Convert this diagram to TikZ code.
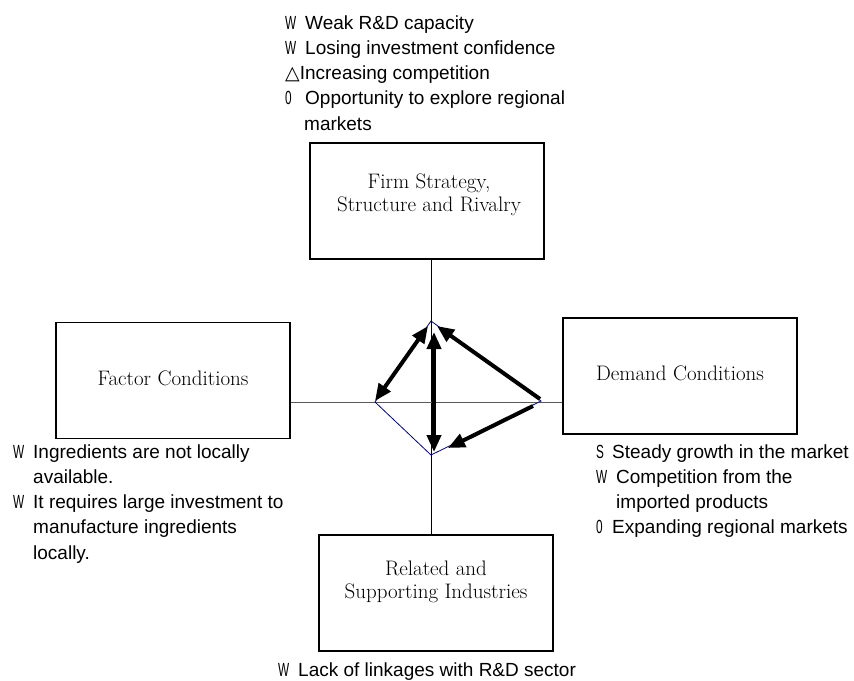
\documentclass[tikz,border=0pt]{standalone}
\usepackage{graphicx}
\usepackage{fontspec}
\newfontfamily\arialfont{Liberation Sans}
\newfontfamily\symfont{DejaVu Sans}
\usetikzlibrary{arrows.meta}
% bullet letters (W, S, 0) in a narrow, condensed face, followed by a fixed gap
\newcommand{\narrow}[1]{\scalebox{0.62}[1]{\arialfont #1}}
\newcommand{\mkw}[1]{\makebox[20pt][l]{\narrow{#1}}}
\newcommand{\mks}[1]{\makebox[16pt][l]{\narrow{#1}}}
\newcommand{\indentline}{\hspace*{20pt}}

\begin{document}
\begin{tikzpicture}[x=1pt,y=-1pt,
  force/.style={draw=black, line width=1.2pt, minimum width=234pt, minimum height=116pt, inner sep=0pt},
  forcelabel/.style={align=center, font=\fontsize{21}{23}\selectfont, inner sep=0pt},
  % multi-line notes: the base anchor sits on the last line
  notes/.style={align=left, anchor=base west, inner sep=0pt, font=\arialfont\fontsize{19}{25.3}\selectfont},
  axis/.style={line width=1pt},
  rim/.style={draw={rgb,255:red,0;green,0;blue,128}, line width=0.8pt},
  link/.style={line width=4pt, -{Triangle[length=17pt,width=14pt]}},
  duallink/.style={line width=4pt, {Triangle[length=17pt,width=14pt]}-{Triangle[length=17pt,width=14pt]}},
]
\useasboundingbox (0,0) rectangle (854,680);
\fill[white] (0,0) rectangle (854,680);

% the four determinants
\node[force] (firm)    at (427,201)   {};
\node[force] (factor)  at (173,380.5) {};
\node[force] (demand)  at (680,376)   {};
\node[force] (related) at (436,593)   {};

\node[forcelabel] (firmtext)    at (429,194.5) {Firm Strategy,\\Structure and Rivalry};
\node[forcelabel] (factortext)  at (173,378)   {Factor Conditions};
\node[forcelabel] (demandtext)  at (680,373)   {Demand Conditions};
\node[forcelabel] (relatedtext) at (436,581.5) {Related and\\Supporting Industries};

% corners of the inner diamond
\coordinate (dtop)   at (431,321);
\coordinate (dleft)  at (375,402);
\coordinate (dright) at (541,401);
\coordinate (dbot)   at (431,455);

% cross axes
\draw[axis] (firm.south -| dtop) -- (related.north -| dtop);
\draw[axis, black!65] (factor.east |- dleft) -- (demand.west |- dleft);

% diamond outline
\draw[rim] (dtop) -- (dright) -- (dbot) -- (dleft) -- cycle;

% interaction arrows
\coordinate (a1) at (375,401);
\coordinate (a2) at (428,326);
\coordinate (b1) at (434,332);
\coordinate (b2) at (434,452);
\coordinate (c1) at (540,399);
\coordinate (c2) at (437,326);
\coordinate (e1) at (533,406);
\coordinate (e2) at (448,448);
\draw[duallink] (a1) -- (a2);
\draw[duallink] (b1) -- (b2);
\draw[link] (c1) -- (c2);
\draw[link] (e1) -- (e2);

% SWOT notes
\node[notes] (firmnotes) at (285,130.2) {%
  \mkw{W}Weak R\&D capacity\\
  \mkw{W}Losing investment confidence\\
  {\symfont △}Increasing competition\\
  \mkw{0}Opportunity to explore regional\\
  \hspace*{19pt}markets};

\node[notes] (factornotes) at (13,559.2) {%
  \mkw{W}Ingredients are not locally\\
  \indentline available.\\
  \mkw{W}It requires large investment to\\
  \indentline manufacture ingredients\\
  \indentline locally.};

\node[notes] (demandnotes) at (596,533.9) {%
  \mks{S}Steady growth in the market\\
  \mkw{W}Competition from the\\
  \indentline imported products\\
  \mks{0}Expanding regional markets};

\node[notes] (relatednotes) at (278,676) {\mkw{W}Lack of linkages with R\&D sector};
\end{tikzpicture}
\end{document}
